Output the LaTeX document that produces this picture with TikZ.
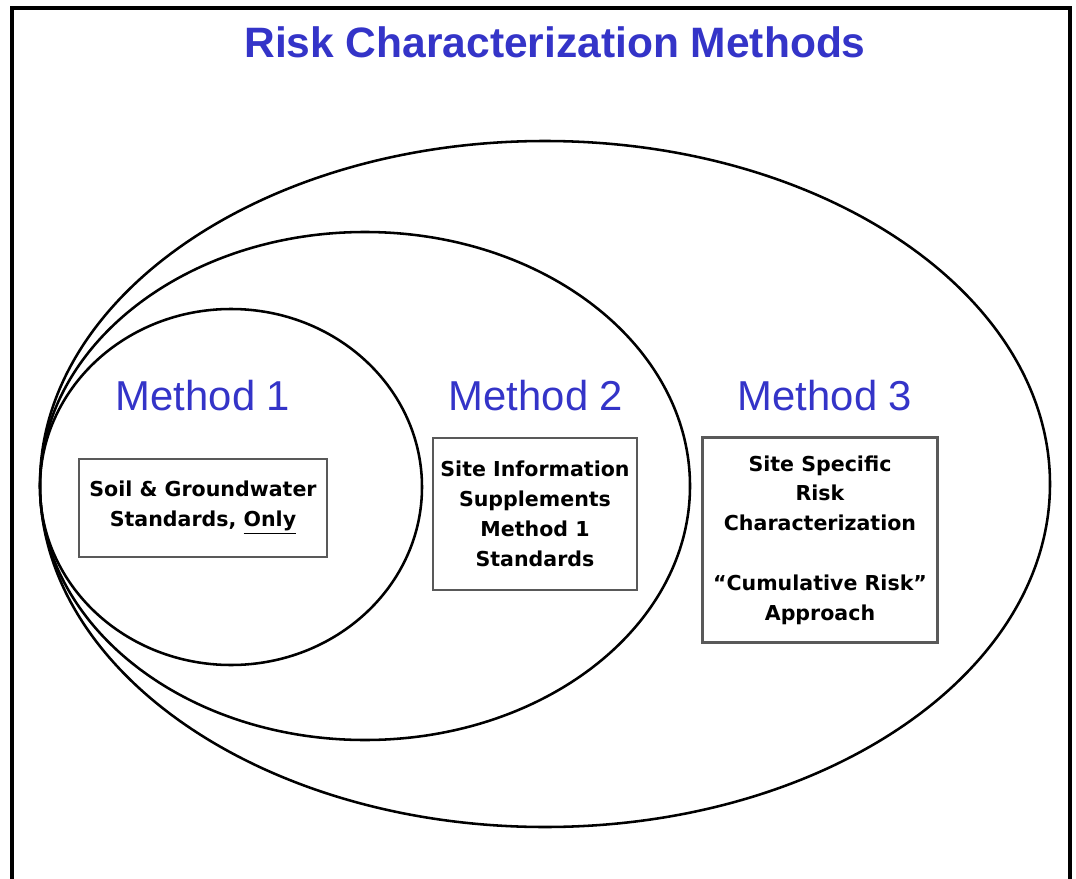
\documentclass[tikz,border=0pt]{standalone}
\usepackage{fontspec}
\setmainfont{Liberation Sans}
\newfontfamily\boxfont{DejaVu Sans}
\usetikzlibrary{positioning}
\definecolor{titleblue}{RGB}{52,52,200}

\begin{document}
\begin{tikzpicture}[x=0.02cm,y=-0.02cm,
                    oval/.style={line width=1.45pt},
                    method/.style={text=titleblue,font=\fontsize{23.8}{28}\selectfont},
                    stdbox/.style={draw=black!65,line width=1.3pt,align=center,inner sep=0pt,
                                   font=\boxfont\bfseries\fontsize{11.7}{17}\selectfont}]

  \useasboundingbox (0,0) rectangle (1076,879);
  \draw[line width=2pt] (12,879) -- (12,8) -- (1070,8) -- (1070,879);

  \node[text=titleblue,font=\bfseries\fontsize{24.2}{28}\selectfont] (title) at (555,42)
        {Risk Characterization Methods};

  % nested methods, all touching on the left
  \draw[oval] (545,484) ellipse [x radius=505,y radius=343];
  \draw[oval] (365,486) ellipse [x radius=325,y radius=254];
  \draw[oval] (231,487) ellipse [x radius=191,y radius=178];

  \node[method] (m1) at (203,396) {Method 1};
  \node[method] (m2) at (536,396) {Method 2};
  \node[method] (m3) at (825,396) {Method 3};

  \node[stdbox,minimum width=4.96cm,minimum height=1.96cm] (b1) at (203,508)
        {Soil \& Groundwater\\Standards, \underline{Only}};
  \node[stdbox,minimum width=4.08cm,minimum height=3.04cm] (b2) at (535,514)
        {Site Information\\Supplements\\Method 1\\Standards};
  \node[stdbox,minimum width=4.7cm,minimum height=4.1cm] (b3) at (820,540)
        {Site Specific\\Risk\\Characterization\\[17pt]“Cumulative Risk”\\Approach};

\end{tikzpicture}
\end{document}
